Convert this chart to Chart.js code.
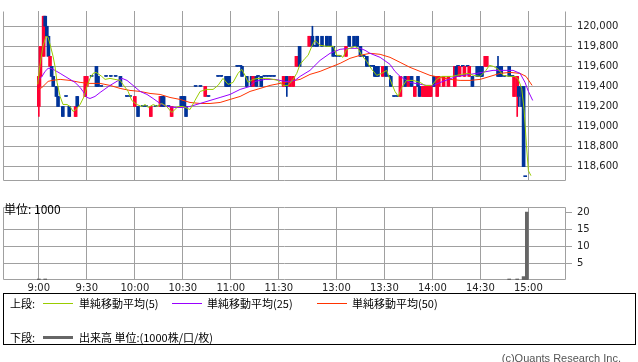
<!DOCTYPE html>
<html lang="ja">
<head>
<meta charset="UTF-8">
<title>日中足チャート</title>
<script src="https://cdn.jsdelivr.net/npm/chart.js"></script>
<style>
  body { margin: 0; width: 638px; height: 362px; background: #fff; position: relative; overflow: hidden;
         font-family: "Noto Sans CJK JP", sans-serif; color: #000; }
  #price { position: absolute; left: 0; top: 0; }
  #volume { position: absolute; left: 0; top: 196px; }
  .txt { position: absolute; font-size: 11px; line-height: 14px; white-space: nowrap; }
  .unit { left: 4px; top: 202px; font-size: 12px; }
  .box { position: absolute; left: 3px; top: 293px; width: 633px; height: 52px; border: 1px solid #000; box-sizing: border-box; }
  .ln { position: absolute; height: 1px; width: 30px; }
  .copy { right: 17px; top: 351px; color: #555; font-family: "Liberation Sans", sans-serif; }
</style>
</head>
<body>
<canvas id="price" width="638" height="192"></canvas>
<canvas id="volume" width="638" height="100"></canvas>
<div class="txt unit">単位: 1000</div>

<!-- legend -->
<div class="box"></div>
<div class="txt" style="left:10px;top:296px">上段:</div>
<div class="ln" style="left:43px;top:303px;background:#99cc00"></div>
<div class="txt" style="left:79px;top:296px">単純移動平均(5)</div>
<div class="ln" style="left:172px;top:303px;background:#9900ff"></div>
<div class="txt" style="left:207px;top:296px">単純移動平均(25)</div>
<div class="ln" style="left:317px;top:303px;background:#ff3300"></div>
<div class="txt" style="left:352px;top:296px">単純移動平均(50)</div>
<div class="txt" style="left:10px;top:330px">下段:</div>
<div class="ln" style="left:43px;top:336px;height:3px;background:#666"></div>
<div class="txt" style="left:79px;top:330px">出来高 単位:(1000株/口/枚)</div>
<div class="txt copy">(c)Quants Research Inc.</div>

<script>
// slot = minutes from 9:00, afternoon session (12:30-) starts at slot 156
const tickSlots = [0, 30, 60, 90, 120, 150, 186, 216, 246, 276, 306];
const tickLabels = ['9:00', '9:30', '10:00', '10:30', '11:00', '11:30', '13:00', '13:30', '14:00', '14:30', '15:00'];
const priceTicks = [118600, 118800, 119000, 119200, 119400, 119600, 119800, 120000];
const volumeTicks = [5, 10, 15, 20];

// 1-minute candles
const candleSlots = [
  0, 1, 3, 4, 5, 6, 7, 8, 9, 11,
  12, 15, 17, 19, 23, 24, 29, 30, 33, 36,
  37, 39, 42, 45, 48, 51, 55, 57, 60, 62,
  65, 67, 70, 73, 76, 77, 78, 81, 83, 89,
  90, 91, 92, 98, 101, 104, 106, 112, 114, 117,
  118, 119, 124, 126, 127, 130, 133, 134, 136, 137,
  139, 141, 143, 145, 147, 153, 155, 157, 159, 161,
  163, 169, 171, 173, 174, 177, 180, 182, 184, 186,
  188, 192, 194, 197, 199, 201, 203, 205, 207, 209,
  210, 211, 212, 215, 217, 219, 220, 222, 224, 226,
  229, 231, 233, 235, 237, 238, 240, 241, 242, 243,
  244, 245, 247, 249, 250, 253, 256, 260, 261, 262,
  263, 265, 266, 268, 269, 271, 274, 275, 276, 277,
  279, 280, 287, 288, 289, 291, 294, 296, 297, 299,
  300, 302, 303, 304];
const opens = [
  119200, 119500, 119700, 120100, 120000, 119900, 119600, 119600, 119500, 119400,
  119300, 119200, 119300, 119200, 119100, 119300, 119300, 119400, 119500, 119600,
  119500, 119400, 119500, 119500, 119500, 119500, 119300, 119300, 119200, 119200,
  119200, 119200, 119100, 119200, 119200, 119300, 119300, 119200, 119100, 119300,
  119300, 119300, 119200, 119400, 119400, 119300, 119300, 119500, 119500, 119500,
  119500, 119500, 119600, 119600, 119600, 119500, 119500, 119400, 119500, 119500,
  119500, 119500, 119500, 119500, 119500, 119400, 119500, 119400, 119400, 119600,
  119800, 119800, 119900, 119800, 119900, 119900, 119900, 119900, 119800, 119700,
  119700, 119700, 119900, 119900, 119900, 119800, 119700, 119700, 119600, 119600,
  119600, 119600, 119600, 119500, 119600, 119500, 119500, 119300, 119300, 119300,
  119500, 119400, 119500, 119300, 119500, 119400, 119300, 119300, 119300, 119300,
  119300, 119300, 119500, 119300, 119400, 119400, 119400, 119400, 119600, 119600,
  119500, 119600, 119500, 119600, 119500, 119500, 119600, 119600, 119600, 119600,
  119600, 119600, 119600, 119600, 119600, 119500, 119600, 119500, 119300, 119300,
  119400, 119400, 119400, 118500];
const highs = [
  119500, 119800, 120100, 120100, 120000, 119900, 119700, 119600, 119500, 119400,
  119300, 119200, 119300, 119200, 119200, 119300, 119500, 119500, 119500, 119600,
  119500, 119400, 119500, 119500, 119500, 119500, 119300, 119300, 119300, 119200,
  119200, 119200, 119200, 119200, 119300, 119300, 119300, 119200, 119200, 119300,
  119300, 119300, 119200, 119400, 119400, 119400, 119300, 119500, 119500, 119500,
  119500, 119500, 119600, 119600, 119600, 119500, 119500, 119500, 119500, 119500,
  119500, 119500, 119500, 119500, 119500, 119500, 119500, 119500, 119500, 119700,
  119800, 119900, 120000, 119800, 119900, 119900, 119900, 119900, 119800, 119700,
  119700, 119800, 119900, 119900, 119900, 119800, 119700, 119700, 119600, 119600,
  119600, 119600, 119600, 119600, 119600, 119500, 119500, 119300, 119300, 119500,
  119500, 119500, 119500, 119400, 119500, 119400, 119400, 119400, 119400, 119400,
  119400, 119400, 119500, 119500, 119500, 119500, 119500, 119600, 119600, 119600,
  119600, 119600, 119600, 119600, 119600, 119500, 119600, 119600, 119600, 119600,
  119700, 119700, 119700, 119600, 119600, 119500, 119600, 119500, 119500, 119500,
  119400, 119400, 119400, 118500];
const lows = [
  119100, 119400, 119700, 120000, 119900, 119700, 119600, 119500, 119400, 119300,
  119200, 119100, 119300, 119100, 119100, 119200, 119300, 119400, 119500, 119400,
  119400, 119400, 119500, 119500, 119500, 119400, 119300, 119300, 119200, 119100,
  119200, 119200, 119100, 119200, 119200, 119200, 119200, 119200, 119100, 119200,
  119200, 119200, 119100, 119400, 119400, 119300, 119300, 119500, 119500, 119400,
  119400, 119400, 119600, 119600, 119500, 119400, 119400, 119400, 119400, 119500,
  119400, 119500, 119500, 119500, 119500, 119400, 119300, 119400, 119400, 119600,
  119600, 119800, 119800, 119800, 119800, 119800, 119800, 119800, 119700, 119700,
  119700, 119700, 119800, 119800, 119800, 119700, 119700, 119600, 119600, 119600,
  119500, 119500, 119500, 119500, 119500, 119500, 119400, 119300, 119300, 119300,
  119400, 119400, 119400, 119300, 119400, 119300, 119300, 119300, 119300, 119300,
  119300, 119300, 119400, 119300, 119400, 119400, 119400, 119400, 119500, 119600,
  119500, 119600, 119500, 119600, 119500, 119400, 119500, 119500, 119500, 119500,
  119600, 119600, 119500, 119500, 119500, 119500, 119500, 119500, 119300, 119100,
  119200, 119200, 118600, 118500];
const closes = [
  119500, 119800, 120100, 120000, 119900, 119700, 119700, 119500, 119400, 119300,
  119200, 119100, 119300, 119100, 119200, 119200, 119500, 119500, 119500, 119400,
  119400, 119400, 119500, 119500, 119500, 119400, 119300, 119300, 119300, 119100,
  119200, 119200, 119200, 119200, 119300, 119200, 119200, 119200, 119200, 119200,
  119200, 119200, 119100, 119400, 119400, 119400, 119300, 119500, 119500, 119400,
  119400, 119400, 119600, 119600, 119500, 119400, 119400, 119500, 119400, 119500,
  119400, 119500, 119500, 119500, 119500, 119500, 119400, 119500, 119500, 119700,
  119600, 119900, 119800, 119800, 119800, 119800, 119800, 119800, 119700, 119700,
  119700, 119800, 119800, 119800, 119800, 119700, 119700, 119600, 119600, 119600,
  119500, 119500, 119500, 119600, 119500, 119500, 119400, 119300, 119300, 119500,
  119400, 119500, 119400, 119400, 119400, 119300, 119400, 119400, 119400, 119400,
  119400, 119400, 119400, 119500, 119500, 119500, 119500, 119600, 119500, 119600,
  119600, 119600, 119600, 119600, 119600, 119400, 119500, 119500, 119500, 119500,
  119700, 119700, 119500, 119500, 119500, 119500, 119500, 119500, 119500, 119500,
  119300, 119200, 118600, 118500];

// moving averages
const ma5Slots = [-0.7, 0.8, 2.6, 4.5, 5.8, 7, 8.9, 10.1, 11.4, 13.3, 15.1, 17.6, 19.5, 21.4, 23.3, 25.8, 28.3, 30.1, 32, 33.9,
  35.8, 39.3, 41.4, 44.5, 47.6, 50.8, 52.6, 55.8, 58.1, 61.2, 64.3, 66.4, 68.4, 71.6, 73.7, 76.8, 79.9, 83.1, 85.1, 87,
  90.1, 94.5, 97.6, 100.8, 104.9, 108.9, 112, 115.1, 118.3, 121.4, 124.5, 126.8, 128.9, 130.8, 133.9, 137, 140.1, 143.3, 146.4, 149.5,
  152.6, 155.8, 158.9, 161.2, 163.3, 166.4, 168.3, 170.6, 172.6, 175.8, 179.9, 184.1, 186.2, 188.3, 190.1, 192.4, 194.5, 197.6, 199.5, 201.8,
  204.9, 208.1, 211.2, 214.3, 217.4, 219.5, 222.6, 224.7, 226.8, 229.9, 233.9, 238.3, 241.4, 245.6, 248.7, 251.8, 258.1, 261.2, 264.3, 268.4,
  271.6, 275.8, 279.5, 281.6, 284.1, 287.2, 290.3, 294.5, 297.6, 299.7, 301.8, 303.3, 304.8, 306, 307.6];
const ma5Values = [119420, 119620, 119800, 119900, 119890, 119820, 119700, 119600, 119440, 119300, 119220, 119220, 119200, 119150, 119170, 119220, 119300, 119400, 119480, 119530,
  119540, 119500, 119470, 119480, 119470, 119460, 119420, 119350, 119260, 119220, 119200, 119220, 119190, 119220, 119200, 119230, 119200, 119140, 119170, 119200,
  119200, 119170, 119260, 119350, 119370, 119370, 119410, 119480, 119420, 119440, 119530, 119570, 119510, 119440, 119470, 119480, 119480, 119480, 119470, 119460,
  119410, 119410, 119470, 119530, 119620, 119680, 119710, 119800, 119860, 119810, 119800, 119800, 119710, 119710, 119690, 119770, 119780, 119800, 119780, 119710,
  119650, 119570, 119510, 119530, 119560, 119470, 119350, 119300, 119390, 119460, 119460, 119440, 119410, 119410, 119470, 119500, 119500, 119510, 119520, 119530,
  119510, 119500, 119560, 119610, 119600, 119570, 119510, 119500, 119500, 119470, 119380, 119170, 118810, 118560, 118510];

const ma25Slots = [-0.5, 2, 3.9, 5.8, 7.6, 10.1, 13.3, 16.4, 19.5, 22.6, 25.8, 27.6, 30.1, 32, 35.1, 38.3, 44.5, 50.8, 52, 55.1,
  58.9, 63.3, 67.6, 71.4, 75.8, 80.1, 85.1, 90.1, 94.5, 100.8, 107, 113.3, 119.5, 125.8, 132, 135.1, 141.4, 147.6, 153.9, 157,
  160.1, 163.3, 169.5, 175.8, 182, 188.3, 194.5, 200.8, 203.9, 207, 213.3, 219.5, 222.6, 225.8, 232, 242.4, 246.4, 252.6, 261.2, 273.7,
  283.9, 296.4, 300.8, 303.9, 306, 308.7];
const ma25Values = [119460, 119500, 119550, 119580, 119580, 119560, 119530, 119500, 119470, 119440, 119390, 119350, 119290, 119280, 119300, 119340, 119410, 119470, 119480, 119460,
  119410, 119350, 119320, 119280, 119230, 119200, 119190, 119190, 119200, 119230, 119260, 119290, 119320, 119370, 119400, 119450, 119470, 119470, 119450, 119450,
  119460, 119500, 119560, 119660, 119730, 119770, 119780, 119780, 119760, 119730, 119690, 119620, 119550, 119500, 119440, 119410, 119410, 119450, 119500, 119530,
  119560, 119560, 119530, 119440, 119350, 119260];

const ma50Slots = [-0.5, 2, 5.8, 8.3, 13.3, 19.5, 25.8, 32, 38.3, 44.5, 50.8, 57, 63.3, 69.5, 75.8, 82, 88.3, 94.5, 100.8, 107,
  113.3, 119.5, 125.8, 132, 138.3, 144.5, 150.8, 157, 163.3, 169.5, 175.8, 182, 188.3, 194.5, 200.8, 207, 213.3, 219.5, 225.8, 232,
  238.3, 244.5, 250.8, 257, 263.3, 269.5, 275.8, 282, 288.3, 294.5, 300.8, 304.5, 308.3];
const ma50Values = [119370, 119390, 119450, 119460, 119470, 119460, 119440, 119430, 119430, 119410, 119380, 119360, 119350, 119330, 119320, 119290, 119270, 119240, 119230, 119230,
  119240, 119270, 119300, 119350, 119380, 119410, 119430, 119450, 119470, 119520, 119550, 119590, 119630, 119680, 119710, 119730, 119720, 119690, 119640, 119590,
  119550, 119510, 119490, 119470, 119460, 119460, 119470, 119500, 119530, 119540, 119530, 119500, 119410];

// volume (x1000)
const volumeSlots = [0, 4, 294, 299, 303, 305];
const volumeValues = [0.3, 0.3, 0.3, 0.3, 1, 20];

const UP = '#ff0033', DOWN = '#003399', GRID = '#a0a0a0';
const SLOT_MIN = -22.4, SLOT_MAX = 329.5;

// gray box around the plot area
const frame = {
  id: 'frame',
  beforeDatasetsDraw(chart, args, opts) {
    const a = chart.chartArea, c = chart.ctx;
    const l = Math.round(a.left) + 0.5, r = Math.round(a.right) - 0.5;
    const t = Math.round(a.top) + 0.5, b = Math.round(a.bottom) - 0.5;
    c.save();
    c.strokeStyle = GRID;
    c.lineWidth = 1;
    c.beginPath();
    if (opts.top) { c.moveTo(l, t); c.lineTo(r, t); }
    c.moveTo(l, t); c.lineTo(l, b); c.lineTo(r, b); c.lineTo(r, t);
    c.stroke();
    c.restore();
  }
};

function pairs(xs, ys) { return xs.map((x, i) => ({ x: x, y: ys[i] })); }

function xAxis(showLabels) {
  return {
    type: 'linear', min: SLOT_MIN, max: SLOT_MAX, offset: false,
    afterBuildTicks: s => { s.ticks = tickSlots.map(v => ({ value: v })); },
    afterFit: s => { s.height = showLabels ? 16 : 0; },
    grid: { color: GRID, drawTicks: false, offset: false },
    border: { display: false },
    ticks: {
      display: showLabels, padding: 2, color: '#222', maxRotation: 0, autoSkip: false,
      font: { family: 'DejaVu Sans', size: 10 },
      callback: v => tickLabels[tickSlots.indexOf(v)]
    }
  };
}

const upDown = candleSlots.map((s, i) => closes[i] > opens[i] ? UP : DOWN);

new Chart(document.getElementById('price'), {
  type: 'bar',
  data: {
    datasets: [
      { type: 'line', label: 'MA5', data: pairs(ma5Slots, ma5Values), borderColor: '#99cc00', borderWidth: 1, pointRadius: 0, tension: 0, order: 1 },
      { type: 'line', label: 'MA25', data: pairs(ma25Slots, ma25Values), borderColor: '#9900ff', borderWidth: 1, pointRadius: 0, tension: 0, order: 2 },
      { type: 'line', label: 'MA50', data: pairs(ma50Slots, ma50Values), borderColor: '#ff3300', borderWidth: 1, pointRadius: 0, tension: 0, order: 3 },
      { label: 'wick', data: candleSlots.map((s, i) => ({ x: s, y: [lows[i], highs[i]] })),
        backgroundColor: upDown, barThickness: 1, grouped: false, order: 5 },
      { label: 'body', data: candleSlots.map((s, i) => ({ x: s, y: [Math.min(opens[i], closes[i]), Math.max(opens[i], closes[i])] })),
        backgroundColor: upDown, barThickness: 3, minBarLength: 1, grouped: false, order: 4 }
    ]
  },
  options: {
    responsive: false, animation: false, devicePixelRatio: 1,
    layout: { padding: { left: 3, right: 0, top: 0, bottom: 2 } },
    plugins: { legend: { display: false }, tooltip: { enabled: false }, frame: { top: false } },
    scales: {
      x: xAxis(false),
      y: {
        position: 'right', min: 118457, max: 120152,
        afterBuildTicks: s => { s.ticks = priceTicks.map(v => ({ value: v })); },
        afterFit: s => { s.width = 72; },
        grid: { color: GRID, tickLength: 6 },
        border: { display: false },
        ticks: { padding: 5, color: '#222', font: { family: 'DejaVu Sans', size: 10 },
                 callback: v => v.toLocaleString('en-US') }
      }
    }
  },
  plugins: [frame]
});

new Chart(document.getElementById('volume'), {
  type: 'bar',
  data: {
    datasets: [{ label: '出来高', data: pairs(volumeSlots, volumeValues), backgroundColor: '#666',
                 barThickness: 3, grouped: false }]
  },
  options: {
    responsive: false, animation: false, devicePixelRatio: 1,
    layout: { padding: { left: 3, right: 0, top: 6, bottom: 0 } },
    plugins: { legend: { display: false }, tooltip: { enabled: false }, frame: { top: true } },
    scales: {
      x: xAxis(true),
      y: {
        position: 'right', min: 0, max: 21.5,
        afterBuildTicks: s => { s.ticks = volumeTicks.map(v => ({ value: v })); },
        afterFit: s => { s.width = 72; },
        grid: { color: c => c.tick && c.tick.value === 20 ? 'rgba(0,0,0,0)' : GRID, tickColor: GRID, tickLength: 6 },
        border: { display: false },
        ticks: { padding: 5, color: '#222', font: { family: 'DejaVu Sans', size: 10 } }
      }
    }
  },
  plugins: [frame]
});
</script>
</body>
</html>
